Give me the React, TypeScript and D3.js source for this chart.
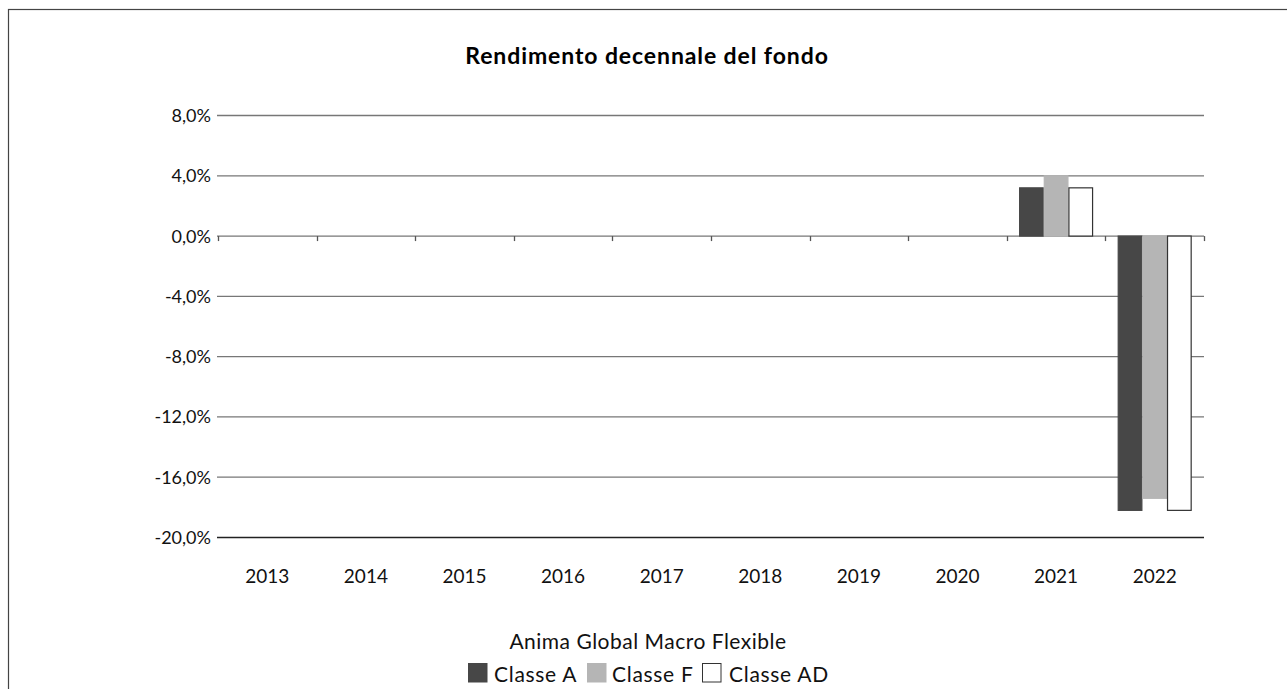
import * as d3 from "d3";
import { useRef, useEffect } from "react";

const years = ["2013", "2014", "2015", "2016", "2017", "2018", "2019", "2020", "2021", "2022"];
const classes = ["Classe A", "Classe F", "Classe AD"];
const classeA = [null, null, null, null, null, null, null, null, 3.2, -18.2];
const classeF = [null, null, null, null, null, null, null, null, 4.0, -17.4];
const classeAD = [null, null, null, null, null, null, null, null, 3.2, -18.2];
const yTicks = [8, 4, 0, -4, -8, -12, -16, -20];

const fills = ["#474747", "#b5b5b5", "#ffffff"];
const strokes = ["#474747", "#b5b5b5", "#333333"];

export default function App() {
  const chartRef = useRef(null);
  const width = 1287;
  const height = 689;

  useEffect(() => {
    const svg = d3.select(chartRef.current);
    svg.selectAll("*").remove();

    const font = "Lato, 'Open Sans', sans-serif";
    const series = [classeA, classeF, classeAD];
    const fmt = (d) => d3.format(".1f")(d).replace(".", ",").replace("\u2212", "-") + "%";

    // Scales
    const x = d3.scaleBand().domain(years).range([218, 1204]);
    const xSub = d3.scaleBand().domain(classes).range([0, x.bandwidth()]).paddingOuter(0.5);
    const y = d3.scaleLinear().domain([-20, 8]).range([537.5, 115.5]);

    // Outer frame
    svg
      .append("rect")
      .attr("x", 8.5)
      .attr("y", 9.5)
      .attr("width", 1400)
      .attr("height", 800)
      .attr("fill", "none")
      .attr("stroke", "#444")
      .attr("stroke-width", 1.2);

    // Title
    svg
      .append("text")
      .attr("x", 647)
      .attr("y", 64)
      .attr("text-anchor", "middle")
      .attr("font-family", font)
      .attr("font-weight", "bold")
      .attr("font-size", 23)
      .attr("letter-spacing", 0.9)
      .attr("fill", "#000")
      .text("Rendimento decennale del fondo");

    // Gridlines + y labels
    const grid = svg.append("g");
    grid
      .selectAll("line")
      .data(yTicks)
      .join("line")
      .attr("x1", 217)
      .attr("x2", 1204)
      .attr("y1", (d) => y(d))
      .attr("y2", (d) => y(d))
      .attr("stroke", (d) => (d === -20 ? "#222" : "#777"))
      .attr("stroke-width", 1.3);

    grid
      .selectAll("text")
      .data(yTicks)
      .join("text")
      .attr("x", 211)
      .attr("y", (d) => y(d) + 6.5)
      .attr("text-anchor", "end")
      .attr("font-family", font)
      .attr("font-size", 18)
      .attr("fill", "#111")
      .text(fmt);

    // Bars
    const groups = svg
      .append("g")
      .selectAll("g")
      .data(years)
      .join("g")
      .attr("transform", (d) => `translate(${x(d)},0)`);

    groups
      .selectAll("rect")
      .data((d, i) =>
        series
          .map((s, k) => ({ key: classes[k], k, v: s[i] }))
          .filter((e) => e.v !== null)
      )
      .join("rect")
      .attr("x", (d) => xSub(d.key) + 0.5)
      .attr("width", xSub.bandwidth() - 1)
      .attr("y", (d) => y(Math.max(0, d.v)))
      .attr("height", (d) => Math.abs(y(d.v) - y(0)))
      .attr("fill", (d) => fills[d.k])
      .attr("stroke", (d) => strokes[d.k])
      .attr("stroke-width", 1.2);

    // Zero axis ticks
    const y0 = y(0);
    svg
      .append("g")
      .selectAll("line")
      .data(d3.range(years.length + 1))
      .join("line")
      .attr("x1", (i) => Math.round(218 + i * x.step()) + 0.5)
      .attr("x2", (i) => Math.round(218 + i * x.step()) + 0.5)
      .attr("y1", y0)
      .attr("y2", y0 + 5)
      .attr("stroke", "#555")
      .attr("stroke-width", 1.3);

    // X labels
    svg
      .append("g")
      .selectAll("text")
      .data(years)
      .join("text")
      .attr("x", (d) => x(d) + x.bandwidth() / 2)
      .attr("y", 583)
      .attr("text-anchor", "middle")
      .attr("font-family", font)
      .attr("font-size", 19)
      .attr("fill", "#111")
      .text((d) => d);

    // Legend
    svg
      .append("text")
      .attr("x", 648)
      .attr("y", 649)
      .attr("text-anchor", "middle")
      .attr("font-family", font)
      .attr("font-size", 21)
      .attr("letter-spacing", 0.5)
      .attr("fill", "#111")
      .text("Anima Global Macro Flexible");

    const legendX = [468, 587, 702];
    const legend = svg
      .append("g")
      .selectAll("g")
      .data(classes)
      .join("g")
      .attr("transform", (d, i) => `translate(${legendX[i]},663)`);

    legend
      .append("rect")
      .attr("x", 0.5)
      .attr("y", 0.5)
      .attr("width", 18.5)
      .attr("height", 18.5)
      .attr("fill", (d, i) => fills[i])
      .attr("stroke", (d, i) => strokes[i]);

    legend
      .append("text")
      .attr("x", (d, i) => [26, 25, 27][i])
      .attr("y", 19)
      .attr("font-family", font)
      .attr("font-size", 21)
      .attr("letter-spacing", 0.7)
      .attr("fill", "#111")
      .text((d) => d);
  }, []);

  return (
    <svg
      ref={chartRef}
      width={width}
      height={height}
      style={{ position: "absolute", left: 0, top: 0, display: "block" }}
    ></svg>
  );
}
